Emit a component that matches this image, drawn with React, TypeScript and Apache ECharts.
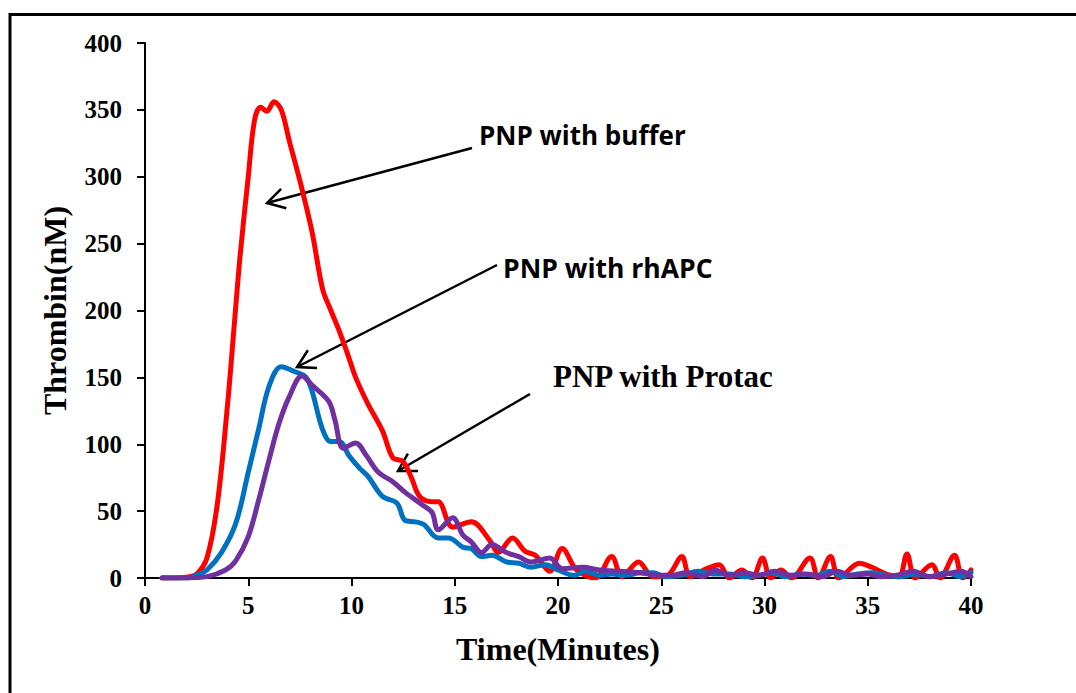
import React, { useEffect, useRef } from "react";
import * as echarts from "echarts";

// [time (min), thrombin (nM)]
const bufferData: [number, number][] = [
  [0.83, 0], [1.5, 0], [2.0, 0.5], [2.5, 3], [3.0, 15], [3.5, 55], [4.0, 130], [4.3, 185],
  [4.6, 240], [5.0, 300], [5.3, 342], [5.6, 352], [5.9, 349], [6.25, 356], [6.6, 350],
  [7.0, 326], [7.6, 291], [8.1, 258], [8.6, 216], [9.0, 200], [9.4, 185], [9.8, 168],
  [10.2, 150], [10.8, 130], [11.5, 110], [12.0, 90], [12.5, 87], [12.9, 75], [13.3, 61],
  [13.9, 57], [14.2, 57], [14.9, 38], [15.8, 42], [16.7, 28], [17.1, 19], [17.8, 30],
  [18.4, 20], [18.9, 17], [19.6, 5], [20.2, 22], [20.9, 6], [21.8, 0], [22.6, 16],
  [23.1, 1], [23.9, 12], [24.6, 1], [25.3, 2], [26.0, 16], [26.4, 1], [27.2, 7],
  [27.8, 10], [28.3, 0], [28.9, 6], [29.4, 0], [29.9, 15], [30.3, 0], [30.8, 6],
  [31.3, 0], [32.2, 15], [32.6, 0], [33.2, 16], [33.6, 0], [34.6, 11], [35.2, 8],
  [35.9, 3], [36.5, 1], [36.9, 18], [37.3, 0], [38.1, 10], [38.5, 0], [39.2, 17],
  [39.6, 0], [40, 6],
];

const rhapcData: [number, number][] = [
  [0.83, 0], [2.0, 0], [2.5, 2], [3.0, 6], [3.7, 19], [4.4, 41], [5.0, 79], [5.5, 111],
  [6.0, 143], [6.6, 158], [7.3, 154], [7.8, 150], [8.1, 139], [8.6, 111], [9.0, 102],
  [9.4, 102], [9.9, 91], [10.4, 82], [10.8, 76], [11.5, 61], [12.2, 56], [12.6, 43],
  [13.1, 42], [13.5, 40], [14.2, 30], [14.7, 30], [15.4, 23], [15.8, 22], [16.3, 16],
  [16.8, 17], [17.5, 12], [18.1, 11], [18.7, 8], [19.4, 10], [20.0, 6], [20.8, 2],
  [21.3, 5], [22.0, 2], [22.6, 3], [23.3, 2], [24.0, 4], [24.6, 4], [25.2, 1], [26.0, 2],
  [26.8, 5], [27.5, 3], [28.3, 3], [29.0, 1], [29.7, 2], [30.4, 4], [31.0, 1], [31.8, 3],
  [32.5, 2], [33.2, 5], [33.8, 1], [34.5, 3], [35.2, 4], [35.9, 2], [36.6, 1], [37.3, 3],
  [38.0, 1], [38.8, 4], [39.5, 1], [40, 4],
];

const protacData: [number, number][] = [
  [0.83, 0], [2.0, 0], [3.0, 1], [3.9, 6], [4.4, 13], [5.0, 31], [5.5, 58], [6.0, 88],
  [6.5, 116], [7.0, 136], [7.6, 151], [8.1, 144], [8.9, 132], [9.2, 118], [9.6, 97],
  [10.2, 101], [10.7, 92], [11.3, 79], [12.0, 72], [12.6, 64], [13.4, 55], [13.9, 49],
  [14.2, 36], [14.9, 45], [15.4, 32], [15.8, 27], [16.3, 19], [16.8, 25], [17.5, 19],
  [18.1, 16], [18.7, 12], [19.6, 15], [20.2, 7], [21.2, 8], [22.0, 6], [23.0, 5],
  [24.0, 4], [24.8, 2], [25.5, 2], [26.2, 4], [27.0, 1], [27.6, 6], [28.3, 2], [29.0, 4],
  [29.7, 2], [30.5, 5], [31.3, 2], [32.0, 3], [32.8, 1], [33.5, 5], [34.2, 2], [35.0, 3],
  [35.6, 1], [36.4, 2], [37.2, 5], [38.0, 1], [38.8, 3], [39.5, 5], [40, 1],
];

const seriesNames = ["PNP with buffer", "PNP with rhAPC", "PNP with Protac"];
const xTitle = "Time(Minutes)";
const yTitle = "Thrombin(nM)";

const SERIF = "'Liberation Serif', 'Times New Roman', serif";
const SANS = "'Open Sans', 'Liberation Sans', sans-serif";

function arrow(sx: number, sy: number, ex: number, ey: number) {
  const dx = sx - ex;
  const dy = sy - ey;
  const len = Math.hypot(dx, dy);
  const ux = dx / len;
  const uy = dy / len;
  const L = 20;
  const a = (30 * Math.PI) / 180;
  const r = (c: number, s: number) => [ux * c - uy * s, ux * s + uy * c];
  const [p1x, p1y] = r(Math.cos(a), Math.sin(a));
  const [p2x, p2y] = r(Math.cos(a), -Math.sin(a));
  const style = { stroke: "#000", lineWidth: 2.5, fill: null as any };
  return [
    { type: "line", shape: { x1: sx, y1: sy, x2: ex, y2: ey }, style },
    {
      type: "polyline",
      shape: {
        points: [
          [ex + L * p1x, ey + L * p1y],
          [ex, ey],
          [ex + L * p2x, ey + L * p2y],
        ],
      },
      style,
    },
  ];
}

export default function App() {
  const ref = useRef<HTMLDivElement>(null);
  useEffect(() => {
    document.body.style.margin = "0";
    const chart = echarts.init(ref.current!, null, { renderer: "svg" });
    const lineSeries = (name: string, data: [number, number][], color: string) => ({
      name,
      type: "line",
      data,
      smooth: 0.35,
      showSymbol: false,
      symbol: "none",
      lineStyle: { color, width: 5, cap: "round", join: "round" },
      itemStyle: { color },
    });
    chart.setOption({
      animation: false,
      backgroundColor: "#fff",
      grid: { left: 145, right: 105, top: 43, bottom: 115 },
      xAxis: {
        type: "value",
        min: 0,
        max: 40,
        interval: 5,
        name: xTitle,
        nameLocation: "middle",
        nameGap: 55,
        nameTextStyle: { fontFamily: SERIF, fontWeight: "bold", fontSize: 32, color: "#000" },
        axisLine: { lineStyle: { color: "#000", width: 2 } },
        axisTick: { show: true, inside: false, length: 8, lineStyle: { color: "#000", width: 2 } },
        axisLabel: { fontFamily: SERIF, fontWeight: "bold", fontSize: 25, color: "#000", margin: 15 },
        splitLine: { show: false },
      },
      yAxis: {
        type: "value",
        min: 0,
        max: 400,
        interval: 50,
        name: yTitle,
        nameLocation: "middle",
        nameGap: 74,
        nameRotate: 90,
        nameTextStyle: { fontFamily: SERIF, fontWeight: "bold", fontSize: 32, color: "#000" },
        axisLine: { show: true, lineStyle: { color: "#000", width: 2 } },
        axisTick: { show: true, inside: false, length: 8, lineStyle: { color: "#000", width: 2 } },
        axisLabel: { fontFamily: SERIF, fontWeight: "bold", fontSize: 25, color: "#000", margin: 23 },
        splitLine: { show: false },
      },
      series: [
        lineSeries(seriesNames[0], bufferData, "#FF0000"),
        lineSeries(seriesNames[1], rhapcData, "#0070C0"),
        lineSeries(seriesNames[2], protacData, "#7030A0"),
      ],
      graphic: [
        {
          type: "rect",
          shape: { x: 10, y: 14.5, width: 1200, height: 800 },
          style: { stroke: "#000", lineWidth: 3, fill: null },
          silent: true,
        },
        ...arrow(472, 148, 267, 203),
        ...arrow(497, 265, 297, 367),
        ...arrow(530, 394, 398, 471),
        {
          type: "text",
          x: 479,
          y: 135,
          style: {
            text: seriesNames[0],
            font: `bold 26px ${SANS}`,
            fill: "#000",
            textAlign: "left",
            textVerticalAlign: "middle",
          },
        },
        {
          type: "text",
          x: 503,
          y: 268,
          style: {
            text: seriesNames[1],
            font: `bold 26.5px ${SANS}`,
            fill: "#000",
            textAlign: "left",
            textVerticalAlign: "middle",
          },
        },
        {
          type: "text",
          x: 553,
          y: 376,
          style: {
            text: seriesNames[2],
            font: `bold 31px ${SERIF}`,
            fill: "#000",
            textAlign: "left",
            textVerticalAlign: "middle",
          },
        },
      ],
    });
    return () => chart.dispose();
  }, []);
  return (
    <div
      ref={ref}
      style={{ position: "fixed", left: 0, top: 0, width: 1076, height: 693, background: "#fff" }}
    />
  );
}
